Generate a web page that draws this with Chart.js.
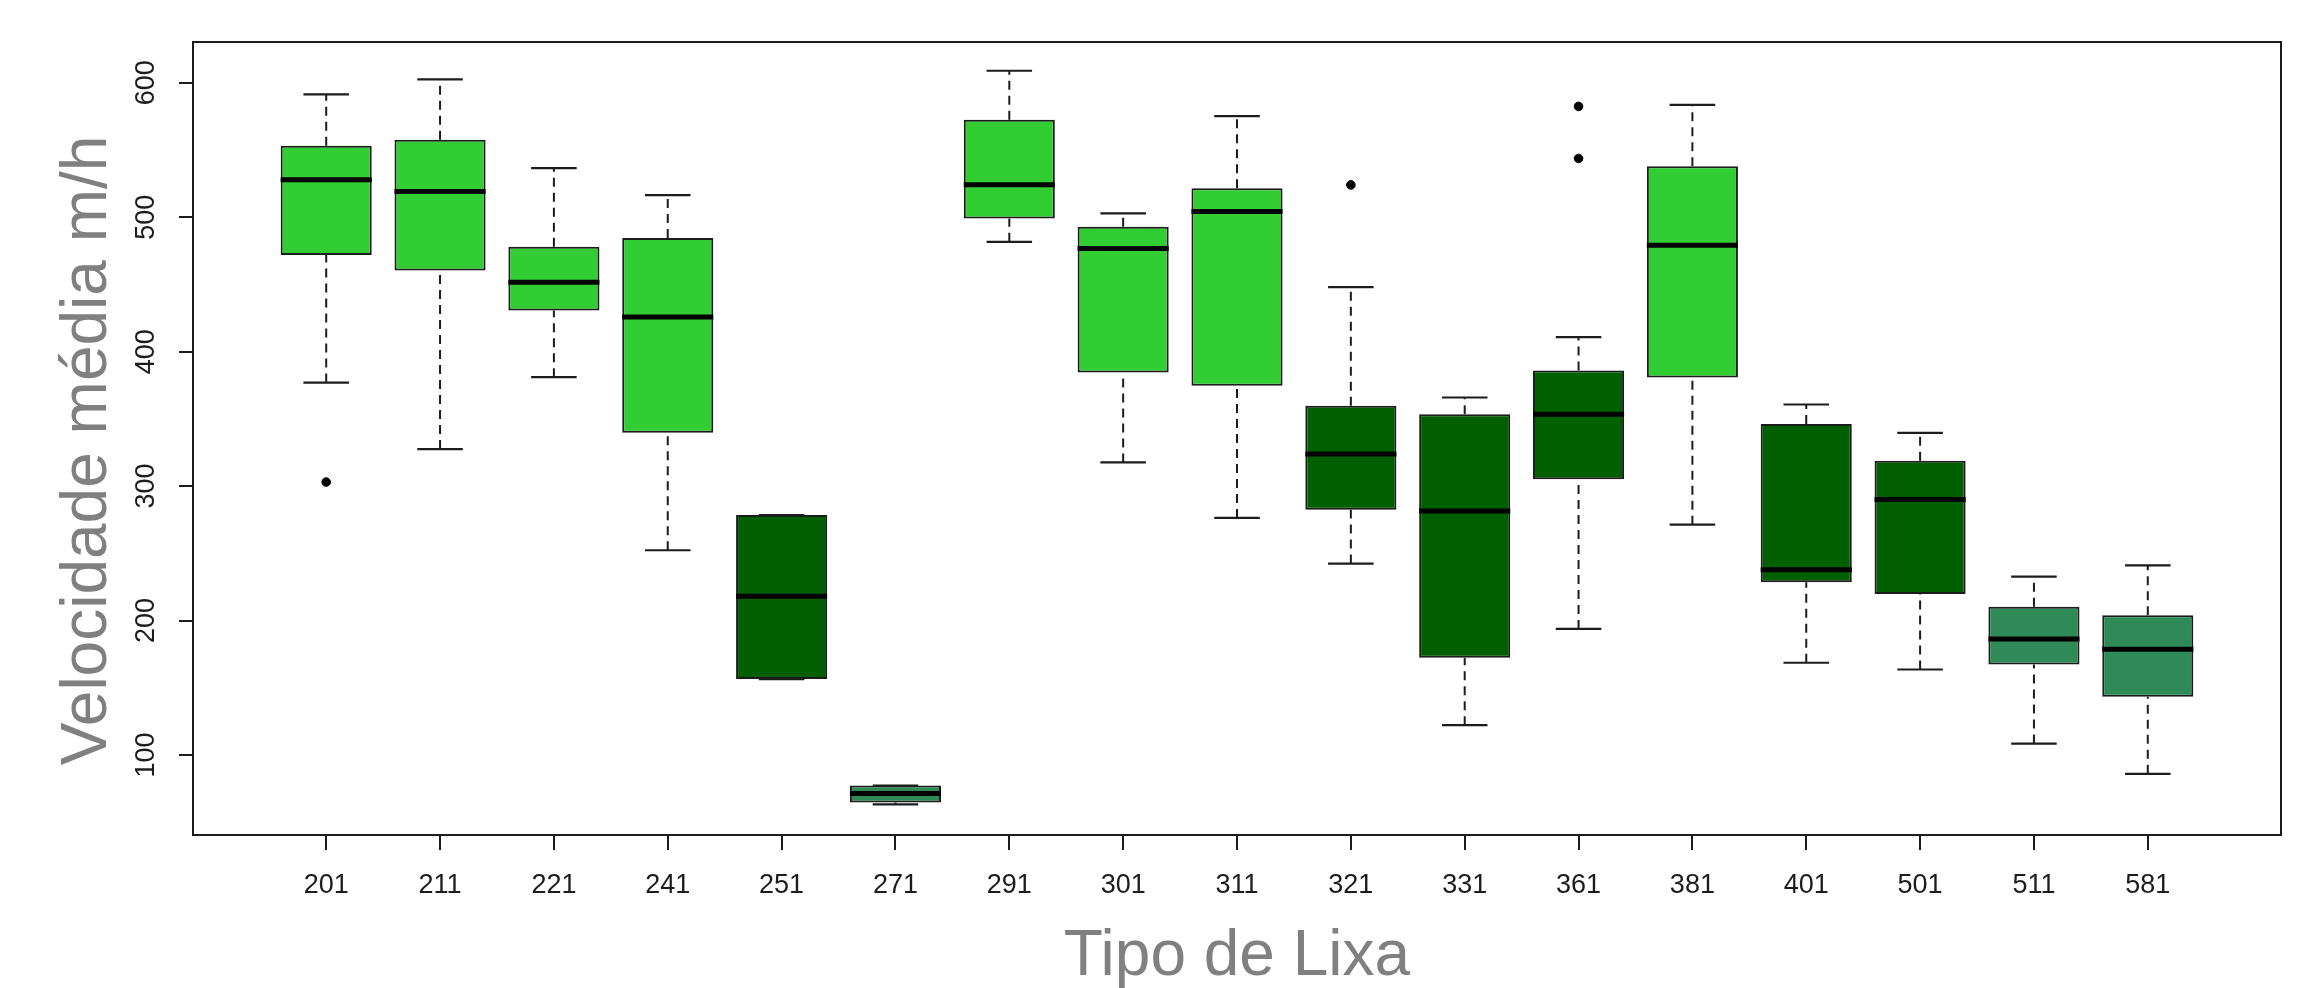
<!DOCTYPE html>
<html>
<head>
<meta charset="utf-8">
<script src="https://cdn.jsdelivr.net/npm/chart.js@4.4.0/dist/chart.umd.min.js"></script>
<style>
html,body{margin:0;padding:0;background:#fff;overflow:hidden}
#wrap{position:relative;width:2301px;height:988px;background:#fff}
</style>
</head>
<body>
<div id="wrap"><canvas id="c"></canvas></div>
<script>
// ---- data ----
const categories = ['201','211','221','241','251','271','291','301','311','321','331','361','381','401','501','511','581'];
const whiskerLow  = [377.0, 327.5, 381.0, 252.3, 156.5, 63.3, 481.7, 317.6, 276.3, 242.4, 122.2, 193.8, 271.3, 168.6, 163.6, 108.5, 86.0];
const q1          = [471.8, 460.4, 430.6, 339.6, 156.5, 64.6, 499.1, 384.5, 374.6, 282.5, 172.3, 305.0, 380.8, 228.4, 219.7, 167.3, 143.4];
const median      = [527.8, 519.2, 451.7, 425.7, 218.0, 71.3, 524.1, 476.8, 504.3, 323.8, 281.5, 353.5, 479.2, 237.7, 290.0, 186.3, 178.6];
const q3          = [553.1, 557.6, 478.0, 484.5, 278.5, 77.3, 572.5, 492.9, 521.6, 359.7, 353.5, 386.0, 537.8, 346.1, 318.8, 210.2, 204.0];
const whiskerHigh = [591.3, 602.5, 536.5, 516.4, 278.5, 77.3, 608.9, 502.8, 575.2, 448.0, 365.9, 410.8, 583.6, 360.7, 339.6, 232.7, 241.1];
const outlierCategory = ['201','321','361','361'];
const outlierValue    = [303.0, 524.0, 582.4, 543.7];
const group = ['A','A','A','A','B','C','A','A','A','B','B','B','A','B','B','C','C'];
const yTicks = [100, 200, 300, 400, 500, 600];
const xTitle = 'Tipo de Lixa';
const yTitle = 'Velocidade média m/h';

// ---- styles ----
const groupColor = {A:'#32CD32', B:'#006000', C:'#2E8B57'};
const BOX_HALF = 0.4, CAP_HALF = 0.2;
const INK = '#1c1c1c';
const FONT = "'Liberation Sans', Arial, sans-serif";

const boxData = categories.map((c,i)=>({x:i+1, y:[q1[i], q3[i]]}));
const medianData = [], whiskerData = [], capData = [];
categories.forEach((c,i)=>{
  const x = i+1;
  medianData.push({x:x-BOX_HALF, y:median[i]}, {x:x+BOX_HALF, y:median[i]}, {x:x, y:null});
  whiskerData.push({x:x, y:whiskerLow[i]}, {x:x, y:q1[i]}, {x:x, y:null},
                   {x:x, y:q3[i]}, {x:x, y:whiskerHigh[i]}, {x:x, y:null});
  capData.push({x:x-CAP_HALF, y:whiskerLow[i]}, {x:x+CAP_HALF, y:whiskerLow[i]}, {x:x, y:null},
               {x:x-CAP_HALF, y:whiskerHigh[i]}, {x:x+CAP_HALF, y:whiskerHigh[i]}, {x:x, y:null});
});
const outlierData = outlierCategory.map((c,k)=>({x:categories.indexOf(c)+1, y:outlierValue[k]}));

const framePlugin = {
  id:'frame',
  afterDraw(chart){
    const {ctx, chartArea:a} = chart;
    ctx.save();
    ctx.strokeStyle = INK; ctx.lineWidth = 2;
    ctx.strokeRect(a.left, a.top, a.right-a.left, a.bottom-a.top);
    // rotated y tick labels (R style)
    const ys = chart.scales.y;
    ctx.font = '27px ' + FONT;
    ctx.fillStyle = INK;
    ctx.textAlign = 'center';
    ctx.textBaseline = 'middle';
    yTicks.forEach(v=>{
      const py = ys.getPixelForValue(v);
      ctx.save();
      ctx.translate(ys.right - 46, py);
      ctx.rotate(-Math.PI/2);
      ctx.fillText(String(v), 0, 0);
      ctx.restore();
    });
    // y axis title
    ctx.font = '64px ' + FONT;
    ctx.fillStyle = '#808080';
    ctx.save();
    ctx.translate(ys.left + 88, (a.top + a.bottom)/2 + 12);
    ctx.rotate(-Math.PI/2);
    ctx.fillText(yTitle, 0, 0);
    ctx.restore();
    ctx.restore();
  }
};

Chart.defaults.font.family = FONT;
new Chart(document.getElementById('c'), {
  type:'bar',
  data:{
    datasets:[
      {type:'line', data:medianData, borderColor:'#000', borderWidth:5, pointRadius:0, spanGaps:false, borderCapStyle:'butt', order:0},
      {type:'scatter', data:outlierData, backgroundColor:'#000', borderColor:'#000', pointRadius:4.3, order:0},
      {type:'line', data:capData, borderColor:INK, borderWidth:2.2, pointRadius:0, spanGaps:false, order:1},
      {type:'line', data:whiskerData, borderColor:INK, borderWidth:2, borderDash:[9,6], pointRadius:0, spanGaps:false, order:2},
      {type:'bar', data:boxData, backgroundColor:group.map(g=>groupColor[g]), borderColor:INK, borderWidth:2,
       borderSkipped:false, barPercentage:1, categoryPercentage:0.8, order:3}
    ]
  },
  options:{
    responsive:true, maintainAspectRatio:false, animation:false, events:[],
    layout:{padding:{top:42, right:20, left:0, bottom:0}},
    plugins:{legend:{display:false}, tooltip:{enabled:false}},
    scales:{
      x:{
        type:'linear', min:-0.17, max:18.17, offset:false,
        afterBuildTicks(s){ s.ticks = categories.map((c,i)=>({value:i+1})); },
        afterFit(s){ s.height = 153; },
        ticks:{autoSkip:false, maxRotation:0, minRotation:0, padding:19, color:INK,
               font:{size:27, lineHeight:1.2}, callback:(v)=>categories[Math.round(v)-1]},
        grid:{display:true, drawOnChartArea:false, drawTicks:true, tickLength:15, color:INK, lineWidth:2, offset:false},
        border:{display:true, color:INK, width:2},
        title:{display:true, text:xTitle, color:'#808080', font:{size:64, lineHeight:0.95}, padding:{top:0, bottom:0}}
      },
      y:{
        type:'linear', min:40.5, max:630.3,
        afterBuildTicks(s){ s.ticks = yTicks.map(v=>({value:v})); },
        afterFit(s){ s.width = 193; },
        ticks:{display:false},
        grid:{display:true, drawOnChartArea:false, drawTicks:true, tickLength:14, color:INK, lineWidth:2},
        border:{display:true, color:INK, width:2},
        title:{display:false}
      }
    }
  },
  plugins:[framePlugin]
});
</script>
</body>
</html>
